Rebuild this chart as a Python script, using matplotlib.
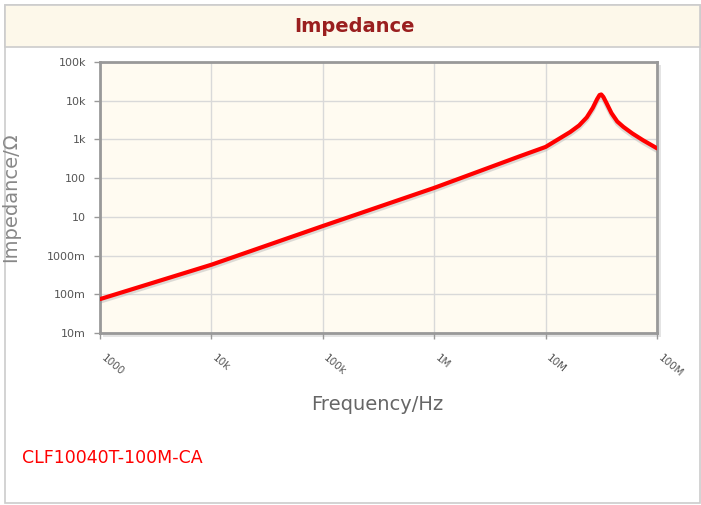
import matplotlib
matplotlib.use('Agg')
import matplotlib.pyplot as plt
from matplotlib.patches import Rectangle
from matplotlib.ticker import FixedLocator, NullLocator
import matplotlib.transforms as mtransforms

# values
freq_hz = [1e3, 1e4, 1e5, 1e6, 5.9e6, 1e7, 1.66e7, 2.0e7, 2.34e7, 2.65e7, 2.9e7,
           3.05e7, 3.16e7, 3.3e7, 3.5e7, 3.9e7, 4.4e7, 5.0e7, 6.0e7, 7.5e7, 1e8]
impedance = [0.075, 0.58, 5.8, 56, 370, 640, 1550, 2300, 3700, 6500, 11000,
             14000, 14500, 12500, 9000, 4800, 2900, 2100, 1430, 950, 590]

x_ticks = [1e3, 1e4, 1e5, 1e6, 1e7, 1e8]
x_tick_labels = ['1000', '10k', '100k', '1M', '10M', '100M']
y_ticks = [1e-2, 1e-1, 1, 10, 100, 1e3, 1e4, 1e5]
y_tick_labels = ['10m', '100m', '1000m', '10', '100', '1k', '10k', '100k']

title = 'Impedance'
part_name = 'CLF10040T-100M-CA'

fig = plt.figure(figsize=(7.01, 5.05), dpi=100)
W, H = 701, 505

# outer frame and title band
fig.patches.append(Rectangle((5 / W, 2 / H), 695 / W, 498 / H, transform=fig.transFigure,
                             facecolor='white', edgecolor='#cccccc', lw=1.2, zorder=-2))
fig.patches.append(Rectangle((5 / W, 1 - 47 / H), 695 / W, 42 / H, transform=fig.transFigure,
                             facecolor='#fdf8ea', edgecolor='#cccccc', lw=1.2, zorder=-1))
fig.text(355 / W, 1 - 27 / H, title, ha='center', va='center', fontsize=14,
         fontweight='bold', color='#9a1f1f')

# soft shadow behind the plot frame
fig.patches.append(Rectangle((103 / W, 1 - 337 / H), 558 / W, 272 / H, transform=fig.transFigure,
                             facecolor='#e4e4e4', edgecolor='none', zorder=-1))

ax = fig.add_axes([100 / W, 1 - 333 / H, 557 / W, 271 / H])
ax.set_facecolor('#fffbf1')

# drop shadow for the line
ax.plot(freq_hz, [v * 0.86 for v in impedance], color='#bbbbbb', lw=3, alpha=0.5,
        solid_capstyle='round', zorder=2)
ax.plot(freq_hz, impedance, color='#ff0000', lw=3, solid_capstyle='round',
        solid_joinstyle='round', zorder=3)

ax.set_xscale('log')
ax.set_yscale('log')
ax.set_xlim(1e3, 1e8)
ax.set_ylim(1e-2, 1e5)
ax.xaxis.set_major_locator(FixedLocator(x_ticks))
ax.yaxis.set_major_locator(FixedLocator(y_ticks))
ax.xaxis.set_minor_locator(NullLocator())
ax.yaxis.set_minor_locator(NullLocator())
ax.set_xticklabels(x_tick_labels, rotation=-40, ha='left', va='top',
                   rotation_mode='anchor', fontsize=7.5, color='#555555')
ax.set_yticklabels(y_tick_labels, fontsize=8, color='#555555')
ax.tick_params(axis='both', length=4, width=1, color='#999999', pad=6)
ax.tick_params(axis='x', pad=10)
shift = mtransforms.ScaledTranslation(4 / 72, 0, fig.dpi_scale_trans)
for lbl in ax.get_xticklabels():
    lbl.set_transform(lbl.get_transform() + shift)

ax.grid(True, color='#d9d9d9', lw=1)
ax.set_axisbelow(True)
for s in ax.spines.values():
    s.set_color('#999999')
    s.set_linewidth(2)

ax.set_xlabel('Frequency/Hz', fontsize=14, color='#666666', va='top')
ax.xaxis.set_label_coords(0.497, -0.228)
ax.set_ylabel('Impedance/\u03a9', fontsize=14, color='#888888')
ax.yaxis.set_label_coords(-0.144, 0.5)

fig.text(22 / W, 1 - 458 / H, part_name, ha='left', va='center', fontsize=12.5, color='#ff0000')

fig.savefig('out.png', dpi=100)
